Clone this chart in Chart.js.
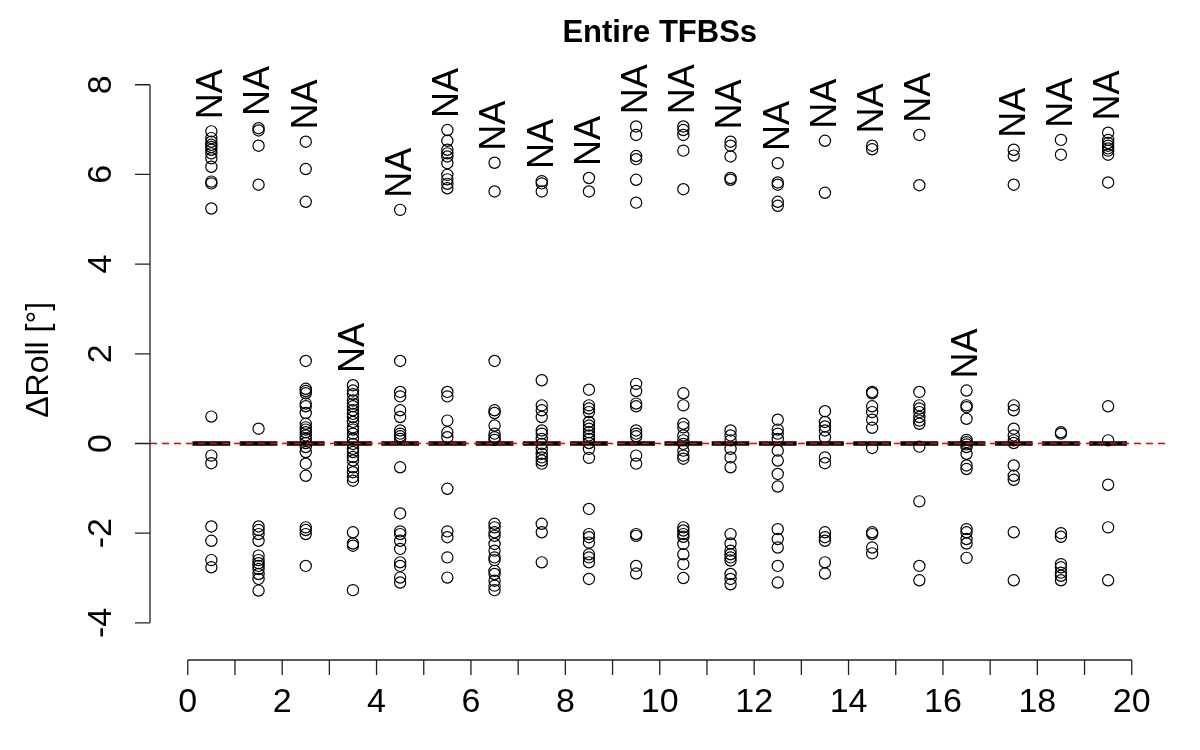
<!DOCTYPE html>
<html>
<head>
<meta charset="utf-8">
<script src="https://cdn.jsdelivr.net/npm/chart.js@4"></script>
<style>
  html, body { margin: 0; padding: 0; background: #fff; }
  canvas { display: block; }
</style>
</head>
<body>
<canvas id="chart" width="1200" height="750"></canvas>
<script>
'use strict';

const TITLE = 'Entire TFBSs';
const Y_LABEL = 'ΔRoll [°]';
const X_TICKS = [0, 1, 2, 3, 4, 5, 6, 7, 8, 9, 10, 11, 12, 13, 14, 15, 16, 17, 18, 19, 20];
const Y_TICKS = [-4, -2, 0, 2, 4, 6, 8];

// group centres sit at 0.5, 1.5 ... 19.5
const GROUP_X = [0.5, 1.5, 2.5, 3.5, 4.5, 5.5, 6.5, 7.5, 8.5, 9.5, 10.5, 11.5, 12.5, 13.5, 14.5, 15.5, 16.5, 17.5, 18.5, 19.5];
const MEDIANS = [0, 0, 0, 0, 0, 0, 0, 0, 0, 0, 0, 0, 0, 0, 0, 0, 0, 0, 0, 0];

const c01 = [6.96, 6.81, 6.73, 6.66, 6.61, 6.55, 6.47, 6.36, 6.17, 5.84, 5.80, 5.24, 0.60, -0.27, -0.44, -1.85, -2.17, -2.60, -2.76];
const c02 = [7.03, 6.98, 6.64, 5.77, 0.33, -1.85, -1.93, -2.02, -2.17, -2.50, -2.60, -2.67, -2.73, -2.80, -2.91, -3.02, -3.28];
const c03 = [6.73, 6.12, 5.39, 1.84, 1.22, 1.17, 1.12, 0.89, 0.83, 0.68, 0.44, 0.36, 0.31, 0.25, 0.18, 0.10, 0.01, -0.08, -0.19, -0.45, -0.72, -1.87, -1.93, -2.02, -2.73];
const c04 = [1.30, 1.18, 1.10, 0.96, 0.89, 0.83, 0.74, 0.66, 0.59, 0.48, 0.36, 0.31, 0.22, 0.10, -0.01, -0.12, -0.19, -0.30, -0.38, -0.53, -0.64, -0.75, -0.83, -1.98, -2.23, -2.28, -3.27];
const c05 = [5.21, 1.84, 1.15, 1.05, 0.74, 0.59, 0.29, 0.22, 0.16, 0.10, -0.53, -1.56, -1.96, -2.02, -2.17, -2.35, -2.65, -2.73, -2.99, -3.10];
const c06 = [6.99, 6.75, 6.55, 6.47, 6.40, 6.25, 5.99, 5.89, 5.79, 5.69, 1.15, 1.05, 0.51, 0.25, 0.14, -1.01, -1.96, -2.09, -2.54, -2.99];
const c07 = [6.26, 5.62, 1.84, 0.74, 0.68, 0.40, 0.22, 0.14, 0.08, -1.79, -1.87, -1.98, -2.06, -2.24, -2.39, -2.54, -2.60, -2.84, -2.91, -3.06, -3.17, -3.27];
const c08 = [5.85, 5.80, 5.62, 1.41, 0.85, 0.74, 0.59, 0.29, 0.22, 0.10, -0.01, -0.12, -0.23, -0.31, -0.38, -0.45, -1.79, -1.98, -2.65];
const c09 = [5.92, 5.62, 1.20, 0.85, 0.78, 0.70, 0.48, 0.40, 0.33, 0.25, 0.18, 0.10, 0.01, -0.12, -0.32, -1.46, -2.02, -2.09, -2.21, -2.47, -2.54, -2.65, -3.02];
const c10 = [7.07, 6.88, 6.41, 6.34, 5.88, 5.37, 1.33, 1.17, 0.89, 0.83, 0.29, 0.22, 0.16, -0.27, -0.45, -2.02, -2.06, -2.73, -2.90];
const c11 = [7.07, 6.99, 6.88, 6.53, 5.67, 1.12, 0.85, 0.44, 0.36, 0.18, 0.07, -0.01, -0.16, -0.27, -0.34, -1.87, -1.94, -2.02, -2.08, -2.24, -2.47, -2.69, -3.00];
const c12 = [6.73, 6.64, 6.40, 5.92, 5.88, 0.29, 0.18, 0.07, -0.12, -0.31, -0.53, -2.02, -2.23, -2.39, -2.47, -2.54, -2.61, -2.91, -3.02, -3.14];
const c13 = [6.25, 5.82, 5.77, 5.39, 5.30, 0.53, 0.31, 0.22, 0.10, -0.16, -0.38, -0.68, -0.96, -1.91, -2.13, -2.32, -2.73, -3.10];
const c14 = [6.75, 5.59, 0.72, 0.48, 0.38, 0.29, 0.14, -0.31, -0.44, -1.98, -2.09, -2.17, -2.65, -2.90];
const c15 = [6.64, 6.56, 1.15, 1.12, 0.83, 0.70, 0.53, 0.35, -0.10, -1.98, -2.02, -2.32, -2.45];
const c16 = [6.88, 5.76, 1.15, 0.85, 0.78, 0.70, 0.59, 0.51, 0.44, -0.07, -1.29, -2.73, -3.05];
const c17 = [1.18, 0.85, 0.81, 0.55, 0.08, 0.03, -0.02, -0.08, -0.23, -0.49, -0.57, -1.91, -1.98, -2.13, -2.23, -2.55];
const c18 = [6.55, 6.42, 5.77, 0.85, 0.74, 0.33, 0.18, 0.07, 0.01, -0.49, -0.72, -0.81, -1.98, -3.05];
const c19 = [6.77, 6.44, 0.25, 0.22, -2.00, -2.08, -2.69, -2.76, -2.88, -2.95, -3.05];
const c20 = [6.93, 6.77, 6.70, 6.64, 6.58, 6.53, 6.44, 5.82, 0.83, 0.07, -0.92, -1.87, -3.05];

const GROUPS = [c01, c02, c03, c04, c05, c06, c07, c08, c09, c10, c11, c12, c13, c14, c15, c16, c17, c18, c19, c20];

const FONT = '"Liberation Sans", Arial, Helvetica, sans-serif';

/* ── datasets built from the arrays ── */
const pointData = [];
GROUPS.forEach((vals, i) => vals.forEach(v => pointData.push({ x: GROUP_X[i], y: v })));

const boxData = [];
GROUP_X.forEach((gx, i) => {
  boxData.push({ x: gx - 0.4, y: MEDIANS[i] });
  boxData.push({ x: gx + 0.4, y: MEDIANS[i] });
  boxData.push({ x: gx + 0.4, y: null });
});

/* ── axes, title and NA labels ── */
const decorPlugin = {
  id: 'decor',
  afterDraw(chart) {
    const { ctx, chartArea } = chart;
    const xs = chart.scales.x;
    const ys = chart.scales.y;
    ctx.save();
    ctx.strokeStyle = '#222';
    ctx.fillStyle = '#000';
    ctx.lineWidth = 1.3;

    // x axis, offset below the plot region
    const axY = 660;
    ctx.beginPath();
    ctx.moveTo(xs.getPixelForValue(X_TICKS[0]), axY);
    ctx.lineTo(xs.getPixelForValue(X_TICKS[X_TICKS.length - 1]), axY);
    X_TICKS.forEach(t => {
      const px = xs.getPixelForValue(t);
      ctx.moveTo(px, axY);
      ctx.lineTo(px, axY + 15);
    });
    ctx.stroke();
    ctx.font = `34px ${FONT}`;
    ctx.textAlign = 'center';
    ctx.textBaseline = 'middle';
    X_TICKS.forEach(t => {
      if (t % 2) return;
      ctx.fillText(String(t), xs.getPixelForValue(t), 703);
    });

    // y axis on the left edge of the plot region
    const axX = chartArea.left;
    ctx.beginPath();
    ctx.moveTo(axX, ys.getPixelForValue(Y_TICKS[0]));
    ctx.lineTo(axX, ys.getPixelForValue(Y_TICKS[Y_TICKS.length - 1]));
    Y_TICKS.forEach(t => {
      const py = ys.getPixelForValue(t);
      ctx.moveTo(axX, py);
      ctx.lineTo(axX - 15, py);
    });
    ctx.stroke();
    Y_TICKS.forEach(t => {
      ctx.save();
      ctx.translate(102, ys.getPixelForValue(t));
      ctx.rotate(-Math.PI / 2);
      ctx.fillText(String(t), 0, 0);
      ctx.restore();
    });

    // y label
    ctx.save();
    ctx.font = `32px ${FONT}`;
    ctx.translate(39, (chartArea.top + chartArea.bottom) / 2 + 6);
    ctx.rotate(-Math.PI / 2);
    ctx.fillText(Y_LABEL, 0, 0);
    ctx.restore();

    // title
    ctx.font = `bold 31px ${FONT}`;
    ctx.textBaseline = 'alphabetic';
    ctx.fillText(TITLE, (chartArea.left + chartArea.right) / 2, 42);

    // NA labels just above each group's highest point
    ctx.font = `36px ${FONT}`;
    ctx.textAlign = 'left';
    ctx.textBaseline = 'middle';
    GROUPS.forEach((vals, i) => {
      const top = Math.max(...vals);
      ctx.save();
      ctx.translate(xs.getPixelForValue(GROUP_X[i]), ys.getPixelForValue(top + 0.27));
      ctx.rotate(-Math.PI / 2);
      ctx.fillText('NA', 0, 1);
      ctx.restore();
    });
    ctx.restore();
  },
};

new Chart(document.getElementById('chart'), {
  type: 'scatter',
  data: {
    datasets: [
      {
        type: 'line',
        data: [{ x: -0.8, y: 0 }, { x: 20.8, y: 0 }],
        borderColor: '#ff0000',
        borderWidth: 1.6,
        borderDash: [7, 5],
        pointRadius: 0,
        order: 0,
      },
      {
        data: pointData,
        pointStyle: 'circle',
        pointRadius: 5.6,
        borderColor: '#000',
        borderWidth: 1.2,
        backgroundColor: 'rgba(0,0,0,0)',
        order: 1,
      },
      {
        type: 'line',
        data: boxData,
        borderColor: '#000',
        borderWidth: 4.4,
        borderCapStyle: 'butt',
        spanGaps: false,
        pointRadius: 0,
        order: 2,
      },
    ],
  },
  options: {
    responsive: false,
    animation: false,
    layout: { padding: { left: 150, right: 30.5, top: 63.2, bottom: 105.6 } },
    plugins: { legend: { display: false }, tooltip: { enabled: false } },
    scales: {
      x: { type: 'linear', min: -0.8, max: 20.8, display: false },
      y: { type: 'linear', min: -4.48, max: 8.48, display: false },
    },
  },
  plugins: [decorPlugin],
});
</script>
</body>
</html>
